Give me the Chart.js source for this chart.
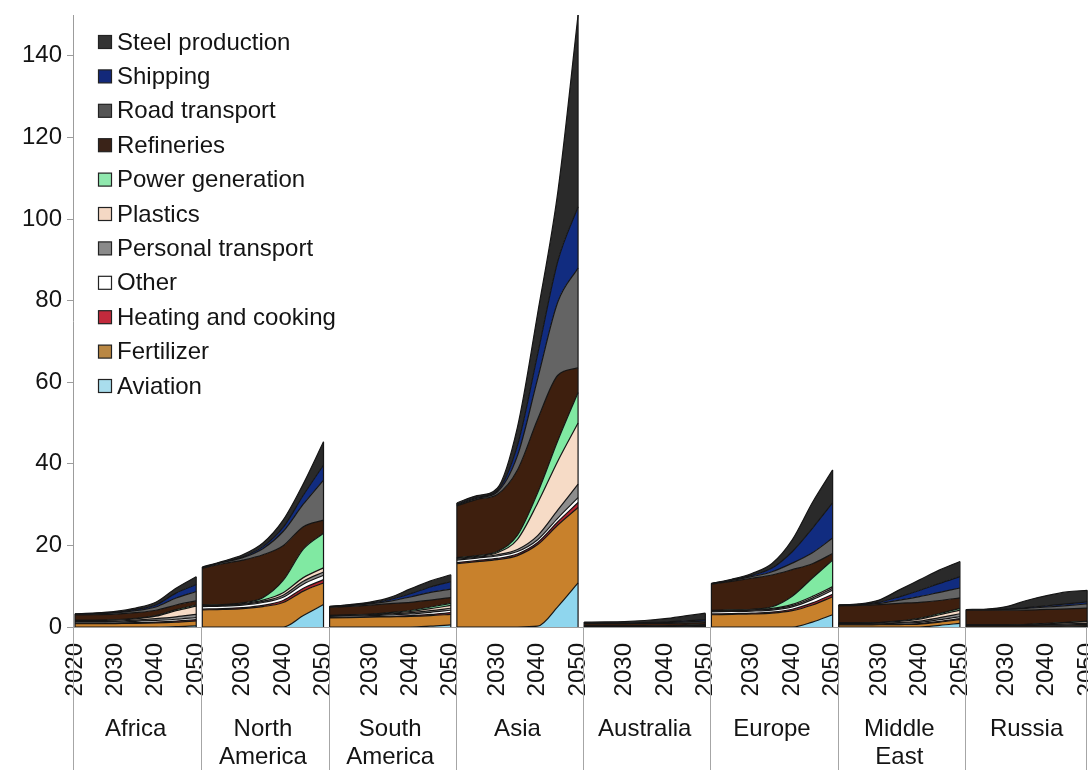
<!DOCTYPE html>
<html>
<head>
<meta charset="utf-8">
<script src="https://cdn.jsdelivr.net/npm/chart.js@4/dist/chart.umd.min.js"></script>
<style>
  html, body { margin: 0; padding: 0; background: #ffffff; }
  canvas { display: block; }
</style>
</head>
<body>
<canvas id="chart" width="1088" height="770"></canvas>
<script>
// Hydrogen demand by sector and region, stacked areas per region block
const years = [2020, 2025, 2030, 2035, 2040, 2045, 2050];
const regions = ['Africa', 'North America', 'South America', 'Asia', 'Australia', 'Europe', 'Middle East', 'Russia'];
const sectors = ['Aviation', 'Fertilizer', 'Heating and cooking', 'Other', 'Personal transport', 'Plastics',
                 'Power generation', 'Refineries', 'Road transport', 'Shipping', 'Steel production'];
const yTickValues = [0, 20, 40, 60, 80, 100, 120, 140];
const tickYears = [2030, 2040, 2050];

// one row per region (same order as `regions`), one value per entry of `years`
const aviation = [
  [0, 0, 0, 0, 0, 0.1, 0.3],
  [0, 0, 0, 0, 0, 2.8, 5.5],
  [0, 0, 0, 0, 0, 0.2, 0.5],
  [0, 0, 0, 0, 0.2, 5, 10.8],
  [0, 0, 0, 0, 0, 0.05, 0.1],
  [0, 0, 0, 0, 0, 1.2, 3.0],
  [0, 0, 0, 0, 0, 0.4, 0.9],
  [0, 0, 0, 0, 0, 0.05, 0.1]
];
const fertilizer = [
  [0.8, 0.8, 0.85, 0.9, 1.0, 1.1, 1.2],
  [4.2, 4.3, 4.5, 5.0, 6.0, 6.0, 5.3],
  [2.2, 2.3, 2.4, 2.5, 2.6, 2.6, 2.6],
  [15.5, 16, 16.5, 17.5, 20, 20, 18.5],
  [0.1, 0.1, 0.1, 0.1, 0.1, 0.1, 0.1],
  [3.0, 3.1, 3.2, 3.4, 4.0, 4.2, 4.4],
  [0.5, 0.5, 0.55, 0.6, 0.7, 0.8, 0.9],
  [0.2, 0.2, 0.2, 0.2, 0.2, 0.2, 0.2]
];
const heating = [
  [0.1, 0.1, 0.1, 0.15, 0.2, 0.25, 0.3],
  [0.2, 0.2, 0.25, 0.3, 0.5, 0.7, 0.8],
  [0.1, 0.1, 0.1, 0.15, 0.2, 0.3, 0.4],
  [0.3, 0.3, 0.3, 0.4, 0.5, 0.8, 1.2],
  [0.02, 0.02, 0.02, 0.02, 0.02, 0.02, 0.02],
  [0.2, 0.2, 0.2, 0.25, 0.35, 0.5, 0.6],
  [0.05, 0.05, 0.05, 0.1, 0.15, 0.2, 0.25],
  [0.05, 0.05, 0.05, 0.05, 0.05, 0.05, 0.05]
];
const other = [
  [0.3, 0.3, 0.3, 0.35, 0.4, 0.45, 0.5],
  [0.6, 0.6, 0.6, 0.7, 0.8, 1.0, 1.1],
  [0.3, 0.3, 0.3, 0.35, 0.4, 0.5, 0.6],
  [0.6, 0.6, 0.6, 0.6, 0.7, 0.9, 1.2],
  [0.05, 0.05, 0.05, 0.05, 0.05, 0.06, 0.08],
  [0.5, 0.5, 0.5, 0.5, 0.6, 0.8, 1.0],
  [0.2, 0.2, 0.2, 0.25, 0.3, 0.4, 0.5],
  [0.1, 0.1, 0.1, 0.15, 0.2, 0.25, 0.3]
];
const personalTransport = [
  [0.2, 0.2, 0.2, 0.3, 0.45, 0.6, 0.8],
  [0.2, 0.2, 0.25, 0.3, 0.5, 0.7, 0.8],
  [0.1, 0.1, 0.15, 0.2, 0.3, 0.4, 0.5],
  [0.2, 0.2, 0.3, 0.5, 1.0, 2.0, 3.3],
  [0.02, 0.02, 0.03, 0.04, 0.06, 0.08, 0.1],
  [0.2, 0.2, 0.2, 0.25, 0.3, 0.4, 0.5],
  [0.1, 0.1, 0.1, 0.15, 0.3, 0.5, 0.7],
  [0.05, 0.05, 0.05, 0.1, 0.15, 0.2, 0.25]
];
const plastics = [
  [0.2, 0.2, 0.25, 0.3, 0.6, 1.5, 2.0],
  [0.1, 0.1, 0.15, 0.3, 0.6, 0.9, 1.0],
  [0.1, 0.1, 0.1, 0.2, 0.3, 0.5, 0.7],
  [0.2, 0.2, 0.5, 2.5, 8, 12, 15],
  [0.02, 0.02, 0.02, 0.03, 0.05, 0.07, 0.1],
  [0.1, 0.1, 0.1, 0.15, 0.3, 0.4, 0.4],
  [0.1, 0.1, 0.15, 0.3, 0.5, 0.7, 0.9],
  [0.05, 0.05, 0.05, 0.1, 0.2, 0.3, 0.4]
];
const powerGeneration = [
  [0.05, 0.05, 0.05, 0.1, 0.15, 0.25, 0.3],
  [0.1, 0.1, 0.15, 0.6, 3.0, 7.0, 8.5],
  [0.05, 0.05, 0.1, 0.15, 0.25, 0.4, 0.5],
  [0.2, 0.2, 0.3, 1.0, 2.5, 5, 7.5],
  [0.02, 0.02, 0.02, 0.03, 0.05, 0.08, 0.1],
  [0.1, 0.1, 0.15, 0.4, 2.0, 4.5, 6.5],
  [0.05, 0.05, 0.05, 0.1, 0.2, 0.3, 0.4],
  [0.05, 0.05, 0.05, 0.05, 0.1, 0.1, 0.15]
];
const refineries = [
  [1.3, 1.35, 1.4, 1.4, 1.3, 1.15, 1.0],
  [9.0, 10.0, 10.5, 10.5, 8.5, 5.5, 3.2],
  [2.0, 2.1, 2.2, 2.2, 2.0, 1.7, 1.4],
  [12.7, 13.8, 14, 16, 18, 16, 6],
  [0.6, 0.6, 0.6, 0.6, 0.55, 0.5, 0.45],
  [6.4, 7.0, 7.6, 7.8, 6.5, 3.5, 1.6],
  [4.2, 4.3, 4.4, 4.3, 3.9, 3.2, 2.6],
  [3.6, 3.6, 3.6, 3.5, 3.4, 3.3, 3.2]
];
const roadTransport = [
  [0.15, 0.2, 0.3, 0.5, 0.8, 1.7, 2.3],
  [0.1, 0.3, 0.6, 1.5, 3.5, 5.5, 9.8],
  [0.1, 0.2, 0.3, 0.6, 1.3, 1.9, 2.1],
  [0.2, 0.3, 0.6, 3.5, 10, 18, 24.5],
  [0.05, 0.06, 0.08, 0.12, 0.2, 0.3, 0.4],
  [0.1, 0.2, 0.4, 0.8, 1.6, 2.7, 3.8],
  [0.1, 0.15, 0.3, 0.8, 1.4, 2.0, 2.4],
  [0.05, 0.1, 0.2, 0.4, 0.6, 0.8, 1.0]
];
const shipping = [
  [0.05, 0.1, 0.15, 0.3, 0.5, 1.2, 1.7],
  [0.1, 0.1, 0.2, 0.5, 1.0, 2.2, 3.7],
  [0.05, 0.1, 0.2, 0.4, 0.8, 1.3, 1.8],
  [0.2, 0.2, 0.3, 2.5, 6, 10, 15],
  [0.03, 0.04, 0.06, 0.1, 0.15, 0.25, 0.35],
  [0.05, 0.1, 0.3, 0.9, 2.8, 6.0, 8.6],
  [0.05, 0.1, 0.3, 0.8, 1.5, 2.2, 2.8],
  [0.03, 0.05, 0.1, 0.2, 0.3, 0.4, 0.5]
];
const steelProduction = [
  [0.1, 0.15, 0.25, 0.35, 0.65, 1.2, 1.9],
  [0.1, 0.2, 0.5, 0.9, 1.8, 2.8, 5.7],
  [0.05, 0.15, 0.25, 0.5, 1.2, 1.5, 1.7],
  [0.3, 0.4, 0.6, 4.5, 10, 17, 47],
  [0.3, 0.32, 0.36, 0.5, 0.8, 1.2, 1.6],
  [0.05, 0.2, 0.45, 1.1, 2.9, 6.3, 8.1],
  [0.05, 0.1, 0.5, 1.7, 2.6, 3.3, 3.7],
  [0.1, 0.15, 0.6, 1.75, 2.5, 2.95, 2.85]
];

const sectorValues = [aviation, fertilizer, heating, other, personalTransport, plastics,
                      powerGeneration, refineries, roadTransport, shipping, steelProduction];
const sectorColors = ['#8fd6ee', '#c8812c', '#b3232f', '#ffffff', '#8d8d8d', '#f6dbc6',
                      '#80e9a2', '#3e1f0e', '#646464', '#112c80', '#2a2a2a'];
const legendColors = ['#a9dded', '#b98743', '#c22a3c', '#ffffff', '#8a8a8a', '#f4d8c4',
                      '#90e8ae', '#3a2318', '#555555', '#13297a', '#333333'];

// layout of the horizontal axis: each region gets 30 years plus a short gap
const BLOCK = 31.5;
const FONT = "'Liberation Sans', Arial, Helvetica, sans-serif";
const TEXT = '#141414';
const xOf = (r, year) => r * BLOCK + (year - years[0]);

const datasets = [];
regions.forEach((region, r) => {
  sectors.forEach((name, s) => {
    datasets.push({
      label: name,
      data: years.map((yr, i) => ({ x: xOf(r, yr), y: sectorValues[s][r][i] })),
      backgroundColor: sectorColors[s],
      borderColor: '#151515',
      borderWidth: 1.2,
      pointRadius: 0,
      pointHoverRadius: 0,
      fill: s === 0 ? 'origin' : '-1',
      cubicInterpolationMode: 'monotone'
    });
  });
});

const yearTickPositions = [xOf(0, years[0])];
regions.forEach((_, r) => tickYears.forEach(yr => yearTickPositions.push(xOf(r, yr))));
const regionCenters = regions.map((_, r) => xOf(r, 2035));
const boundaries = regions.slice(1).map((_, i) => (i + 1) * BLOCK - 0.25);

function yearLabel(v) {
  const r = Math.floor((v + 0.5) / BLOCK);
  return String(Math.round(v - r * BLOCK) + years[0]);
}

// no extra side padding for the edge tick labels
function flushSides(sc) {
  sc.paddingLeft = 0;
  sc.paddingRight = 0;
}

// vertical edges closing each region's stack at 2020 and 2050
const blockEdges = {
  id: 'blockEdges',
  afterDatasetsDraw(chart) {
    const { ctx, scales: { x, y } } = chart;
    ctx.save();
    ctx.strokeStyle = '#151515';
    ctx.lineWidth = 1.2;
    regions.forEach((_, r) => {
      [0, years.length - 1].forEach(i => {
        const total = sectorValues.reduce((acc, arr) => acc + arr[r][i], 0);
        const px = x.getPixelForValue(xOf(r, years[i]));
        ctx.beginPath();
        ctx.moveTo(px, y.getPixelForValue(0));
        ctx.lineTo(px, y.getPixelForValue(total));
        ctx.stroke();
      });
    });
    ctx.restore();
  }
};

// category separators below the plot and the legend drawn inside the plot
const decorations = {
  id: 'decorations',
  afterDraw(chart) {
    const { ctx, chartArea, scales: { x } } = chart;
    const bottom = chart.height;
    ctx.save();
    ctx.strokeStyle = '#a6a6a6';
    ctx.lineWidth = 1;
    const lines = [chartArea.left + 0.5].concat(boundaries.map(b => Math.round(x.getPixelForValue(b)) + 0.5), [chart.width - 1.5]);
    lines.forEach(px => {
      ctx.beginPath();
      ctx.moveTo(px, chartArea.bottom);
      ctx.lineTo(px, bottom);
      ctx.stroke();
    });

    ctx.font = '24px ' + FONT;
    ctx.textBaseline = 'middle';
    ctx.textAlign = 'left';
    const left = chartArea.left + 25;
    const top = 42;
    const step = 34.4;
    for (let k = 0; k < sectors.length; k++) {
      const s = sectors.length - 1 - k;
      const cy = top + k * step;
      ctx.fillStyle = legendColors[s];
      ctx.fillRect(left + 0.5, cy - 6.5, 13, 13);
      ctx.strokeStyle = '#222222';
      ctx.lineWidth = 1.2;
      ctx.strokeRect(left + 0.5, cy - 6.5, 13, 13);
      ctx.fillStyle = TEXT;
      ctx.fillText(sectors[s], left + 19, cy + 1);
    }
    ctx.restore();
  }
};

new Chart(document.getElementById('chart'), {
  type: 'line',
  data: { datasets },
  options: {
    responsive: false,
    animation: false,
    devicePixelRatio: 1,
    events: [],
    layout: { padding: { top: 15, right: 0, bottom: 0, left: 0 } },
    plugins: { legend: { display: false }, tooltip: { enabled: false } },
    scales: {
      x: {
        type: 'linear',
        position: 'bottom',
        weight: 0,
        min: -0.5,
        max: 250.7,
        afterBuildTicks: sc => { sc.ticks = yearTickPositions.map(v => ({ value: v })); },
        afterFit: sc => { sc.height = 88; flushSides(sc); },
        ticks: {
          autoSkip: false,
          minRotation: 90,
          maxRotation: 90,
          padding: 16,
          color: TEXT,
          font: { family: FONT, size: 24 },
          callback: v => yearLabel(v)
        },
        grid: { display: false, drawTicks: false },
        border: { display: true, color: '#9c9c9c', width: 1 }
      },
      regionAxis: {
        type: 'linear',
        position: 'bottom',
        weight: 1,
        min: -0.5,
        max: 250.7,
        afterBuildTicks: sc => { sc.ticks = regionCenters.map(v => ({ value: v })); },
        afterFit: sc => { sc.height = 55; flushSides(sc); },
        ticks: {
          autoSkip: false,
          minRotation: 0,
          maxRotation: 0,
          padding: 0,
          color: TEXT,
          font: { family: FONT, size: 24, lineHeight: 28 / 24 },
          callback: (v, i) => regions[i].split(' ')
        },
        grid: { display: false, drawTicks: false },
        border: { display: false }
      },
      y: {
        stacked: true,
        min: 0,
        max: 150,
        afterBuildTicks: sc => { sc.ticks = yTickValues.map(v => ({ value: v })); },
        afterFit: sc => { sc.width = 73; sc.paddingTop = 0; sc.paddingBottom = 0; },
        ticks: {
          padding: 5,
          color: TEXT,
          font: { family: FONT, size: 24 }
        },
        grid: { display: true, drawOnChartArea: false, drawTicks: true, tickLength: 6, color: '#9c9c9c' },
        border: { display: true, color: '#9c9c9c', width: 1 }
      }
    }
  },
  plugins: [blockEdges, decorations]
});
</script>
</body>
</html>
